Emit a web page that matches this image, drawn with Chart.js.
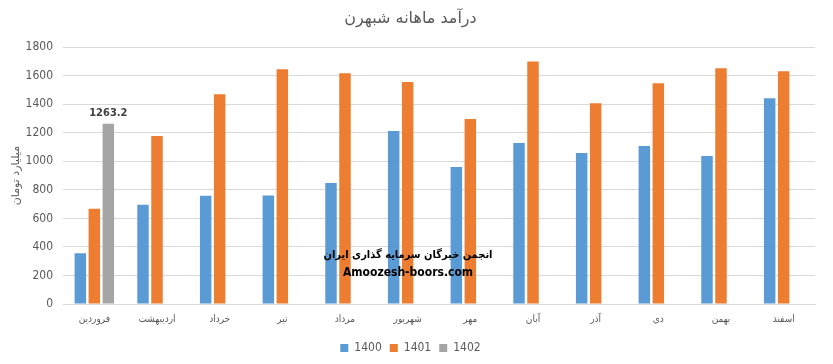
<!DOCTYPE html>
<html>
<head>
<meta charset="utf-8">
<script src="https://cdn.jsdelivr.net/npm/chart.js@4.4.0/dist/chart.umd.min.js"></script>
<style>
  html, body { margin: 0; padding: 0; background: #fff; }
  #wrap { width: 833px; height: 364px; }
</style>
</head>
<body>
<div id="wrap"><canvas id="chart"></canvas></div>
<script>
// ===============================
// داده‌ها
// ===============================
const months = ["فروردین", "اردیبهشت", "خرداد", "تیر", "مرداد", "شهریور", "مهر", "آبان", "آذر", "دی", "بهمن", "اسفند"];
const sales1400 = [355, 695, 758, 760, 848, 1212, 960, 1128, 1058, 1108, 1038, 1443];
const sales1401 = [668, 1178, 1470, 1645, 1618, 1556, 1296, 1700, 1408, 1548, 1652, 1632];
const sales1402 = [1263.2, null, null, null, null, null, null, null, null, null, null, null];
const yTicks = [0, 200, 400, 600, 800, 1000, 1200, 1400, 1600, 1800];

const textFont = "'Liberation Sans Narrow', 'DejaVu Sans Condensed', 'DejaVu Sans', sans-serif";
const grey = "#595959";

// برچسب مقدار روی ستون خاکستری + متن واترمارک
const extraText = {
  id: "extraText",
  afterDatasetsDraw(chart) {
    const ctx = chart.ctx;
    const meta = chart.getDatasetMeta(2);
    ctx.save();
    meta.data.forEach((bar, i) => {
      const v = sales1402[i];
      if (v === null) return;
      ctx.font = "bold 11px 'DejaVu Sans Condensed', sans-serif";
      ctx.fillStyle = "#404040";
      ctx.textAlign = "center";
      ctx.textBaseline = "bottom";
      ctx.fillText(String(v), bar.x, bar.y - 5);
    });
    ctx.fillStyle = "#000";
    ctx.textAlign = "center";
    ctx.textBaseline = "middle";
    ctx.font = "bold 11px 'DejaVu Sans Condensed', 'DejaVu Sans', sans-serif";
    ctx.fillText("انجمن خبرگان سرمایه گذاری ایران", 408, 255);
    ctx.font = "bold 12px 'DejaVu Sans Condensed', sans-serif";
    ctx.fillText("Amoozesh-boors.com", 408, 273);
    ctx.restore();
  }
};

new Chart(document.getElementById("chart"), {
  type: "bar",
  data: {
    labels: months,
    datasets: [
      { label: "1400", data: sales1400, backgroundColor: "#5B9BD5" },
      { label: "1401", data: sales1401, backgroundColor: "#ED7D31" },
      { label: "1402", data: sales1402, backgroundColor: "#A5A5A5" }
    ]
  },
  options: {
    responsive: true,
    maintainAspectRatio: false,
    animation: false,
    layout: { padding: { left: 6, right: 18, top: 6, bottom: 0 } },
    datasets: { bar: { categoryPercentage: 0.67, barPercentage: 0.82 } },
    plugins: {
      title: {
        display: true,
        text: "درآمد ماهانه شبهرن",
        color: grey,
        font: { family: "'DejaVu Sans', sans-serif", size: 16, weight: "normal" },
        padding: { top: 3, bottom: 19 }
      },
      legend: {
        position: "bottom",
        labels: {
          color: grey,
          boxWidth: 8,
          boxHeight: 8,
          padding: 8,
          font: { family: textFont, size: 12 }
        }
      },
      tooltip: { enabled: false }
    },
    scales: {
      x: {
        grid: { display: false, drawTicks: false },
        border: { color: "#D9D9D9" },
        ticks: { color: grey, font: { family: "'DejaVu Sans Condensed', sans-serif", size: 10 }, padding: 9 }
      },
      y: {
        min: 0,
        max: 1800,
        afterBuildTicks: (axis) => { axis.ticks = yTicks.map(v => ({ value: v })); },
        afterFit: (axis) => { axis.width = 57; },
        grid: { color: "#D9D9D9", drawTicks: false },
        border: { display: false },
        ticks: { color: grey, font: { family: textFont, size: 12 }, padding: 10, callback: (v) => String(v) },
        title: {
          display: true,
          text: "میلیارد تومان",
          color: grey,
          font: { family: "'DejaVu Sans', sans-serif", size: 11 },
          padding: { top: 4, bottom: 4 }
        }
      }
    }
  },
  plugins: [extraText]
});
</script>
</body>
</html>
